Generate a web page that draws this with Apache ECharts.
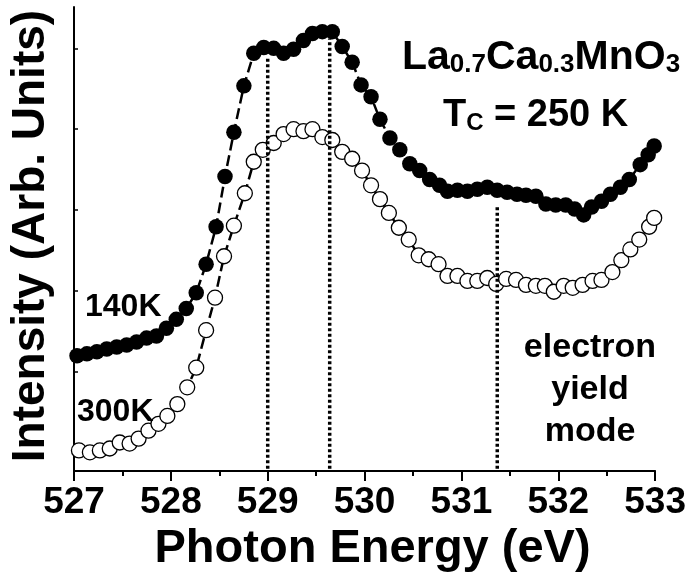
<!DOCTYPE html>
<html>
<head>
<meta charset="utf-8">
<script src="https://cdn.jsdelivr.net/npm/echarts@6/dist/echarts.min.js"></script>
<style>html,body{margin:0;padding:0;background:#fff}#c{width:689px;height:578px}</style>
</head>
<body>
<div id="c"></div>
<script>
// Photon energy (eV) of each measured point
var energy140K = [527.031,527.133,527.236,527.338,527.441,527.544,527.646,527.749,527.851,527.954,
  528.056,528.159,528.262,528.364,528.467,528.559,528.651,528.754,528.856,528.959,
  529.062,529.164,529.267,529.369,529.462,529.564,529.667,529.769,529.872,529.964,
  530.067,530.159,530.262,530.364,530.467,530.569,530.672,530.774,530.856,530.959,
  531.062,531.164,531.267,531.369,531.472,531.574,531.667,531.769,531.872,531.974,
  532.077,532.169,532.262,532.344,532.446,532.538,532.641,532.733,532.846,532.928,532.990];
var intensity140K = [1.427,1.451,1.476,1.512,1.537,1.561,1.598,1.646,1.671,1.768,
  1.878,2.012,2.207,2.561,3.024,3.646,4.195,4.768,5.171,5.244,
  5.232,5.171,5.220,5.329,5.415,5.439,5.439,5.256,5.061,4.780,
  4.634,4.354,4.122,3.976,3.805,3.720,3.610,3.537,3.463,3.476,
  3.463,3.488,3.512,3.476,3.451,3.427,3.415,3.402,3.305,3.293,
  3.293,3.244,3.171,3.268,3.341,3.427,3.512,3.610,3.793,3.915,4.024];
var energy300K = [527.051,527.164,527.267,527.369,527.472,527.574,527.667,527.769,527.872,527.964,
  528.067,528.169,528.262,528.364,528.456,528.549,528.651,528.764,528.856,528.949,
  529.062,529.164,529.267,529.369,529.462,529.564,529.667,529.769,529.872,529.974,
  530.067,530.159,530.251,530.354,530.456,530.559,530.662,530.764,530.856,530.959,
  531.062,531.164,531.267,531.359,531.462,531.564,531.667,531.769,531.862,531.954,
  532.056,532.149,532.251,532.354,532.446,532.559,532.651,532.744,532.836,532.938,532.990];
var intensity300K = [0.256,0.232,0.256,0.280,0.354,0.341,0.402,0.500,0.585,0.683,
  0.829,1.037,1.280,1.744,2.146,2.659,3.037,3.439,3.829,3.976,
  4.061,4.171,4.232,4.207,4.232,4.134,4.098,3.951,3.866,3.720,
  3.537,3.366,3.195,3.012,2.866,2.671,2.622,2.561,2.415,2.415,
  2.354,2.354,2.390,2.317,2.378,2.366,2.305,2.293,2.293,2.220,
  2.293,2.268,2.305,2.354,2.366,2.463,2.610,2.744,2.866,3.024,3.134];
// vertical dotted guide lines
var guideEnergy = [529.0, 529.64, 531.37];
var guideTop = [5.134, 5.354, 3.280];
var guideBottom = 0.03;
// axis ticks
var xTickValues = [527, 528, 529, 530, 531, 532, 533];
var yTickValues = [1.232, 2.232, 3.232, 4.232, 5.232];

function pairs(xs, ys) { return xs.map(function (x, i) { return [x, ys[i]]; }); }

var FONT = 'Liberation Sans, Arial, Helvetica, sans-serif';
var series = [];
series.push({
  name: '300K', type: 'line', z: 2,
  data: pairs(energy300K, intensity300K),
  symbol: 'circle', symbolSize: 15, showAllSymbol: true,
  lineStyle: { color: '#000', width: 2.5, type: [11, 5] },
  itemStyle: { color: '#fff', borderColor: '#000', borderWidth: 1.3 },
  animation: false, silent: true
});
guideEnergy.forEach(function (e, i) {
  series.push({
    name: 'guide' + i, type: 'line', z: 3,
    data: [[e, guideBottom], [e, guideTop[i]]],
    symbol: 'none',
    lineStyle: { color: '#000', width: 3.5, type: [3, 2.5] },
    animation: false, silent: true
  });
});
series.push({
  name: '140K', type: 'line', z: 4,
  data: pairs(energy140K, intensity140K),
  symbol: 'circle', symbolSize: 15.5, showAllSymbol: true,
  lineStyle: { color: '#000', width: 2.5, type: [11, 5] },
  itemStyle: { color: '#000', borderColor: '#000', borderWidth: 0 },
  animation: false, silent: true
});

var chart = echarts.init(document.getElementById('c'), null, { renderer: 'canvas' });
chart.setOption({
  animation: false,
  backgroundColor: '#fff',
  grid: { left: 72, right: 32, top: 7, bottom: 100, containLabel: false },
  xAxis: {
    type: 'value', min: 527, max: 533, interval: 1,
    name: 'Photon Energy (eV)', nameLocation: 'middle', nameGap: 52,
    nameTextStyle: { fontFamily: FONT, fontWeight: 'bold', fontSize: 47, color: '#000', padding: [0, 0, 0, 16] },
    axisLine: { show: true, onZero: false, lineStyle: { color: '#000', width: 2 } },
    axisTick: { show: true, inside: false, length: 10, lineStyle: { color: '#000', width: 2 } },
    minorTick: { show: true, splitNumber: 2, length: 5, lineStyle: { color: '#000', width: 2 } },
    axisLabel: { show: true, margin: 13, fontFamily: FONT, fontWeight: 'bold', fontSize: 37, color: '#000',
      customValues: xTickValues },
    splitLine: { show: false }, minorSplitLine: { show: false }
  },
  yAxis: {
    type: 'value', min: 0, max: 5.744,
    name: 'Intensity (Arb. Units)', nameLocation: 'middle', nameRotate: 90, nameGap: 20,
    nameTextStyle: { fontFamily: FONT, fontWeight: 'bold', fontSize: 46, color: '#000', padding: [0, 0, 0, 6] },
    axisLine: { show: true, onZero: false, lineStyle: { color: '#000', width: 2 } },
    axisTick: { show: true, inside: true, length: 4, lineStyle: { color: '#000', width: 1.5 }, customValues: yTickValues },
    axisLabel: { show: false },
    splitLine: { show: false }
  },
  series: series,
  graphic: [
    { type: 'text', left: 402, top: 37, z: 10, silent: true,
      style: { text: '{m|La}{s|0.7}{m|Ca}{s|0.3}{m|MnO}{s|3}', fill: '#000',
        rich: {
          m: { fontFamily: FONT, fontWeight: 'bold', fontSize: 41, lineHeight: 41, verticalAlign: 'bottom', fill: '#000' },
          s: { fontFamily: FONT, fontWeight: 'bold', fontSize: 26, lineHeight: 12, verticalAlign: 'bottom', fill: '#000' }
        } } },
    { type: 'text', left: 443, top: 97, z: 10, silent: true,
      style: { text: '{m|T}{s|C}{m| = 250 K}', fill: '#000',
        rich: {
          m: { fontFamily: FONT, fontWeight: 'bold', fontSize: 38, lineHeight: 38, verticalAlign: 'bottom', fill: '#000' },
          s: { fontFamily: FONT, fontWeight: 'bold', fontSize: 24, lineHeight: 12, verticalAlign: 'bottom', fill: '#000' }
        } } },
    { type: 'text', left: 85, top: 291, z: 10, silent: true,
      style: { text: '140K', font: 'bold 32px ' + FONT, fill: '#000' } },
    { type: 'text', left: 77, top: 396, z: 10, silent: true,
      style: { text: '300K', font: 'bold 32px ' + FONT, fill: '#000' } },
    { type: 'text', x: 590, y: 327, z: 10, silent: true,
      style: { text: 'electron\nyield\nmode', font: 'bold 34px ' + FONT, fill: '#000',
        align: 'center', verticalAlign: 'top', lineHeight: 42 } }
  ]
});
</script>
</body>
</html>
